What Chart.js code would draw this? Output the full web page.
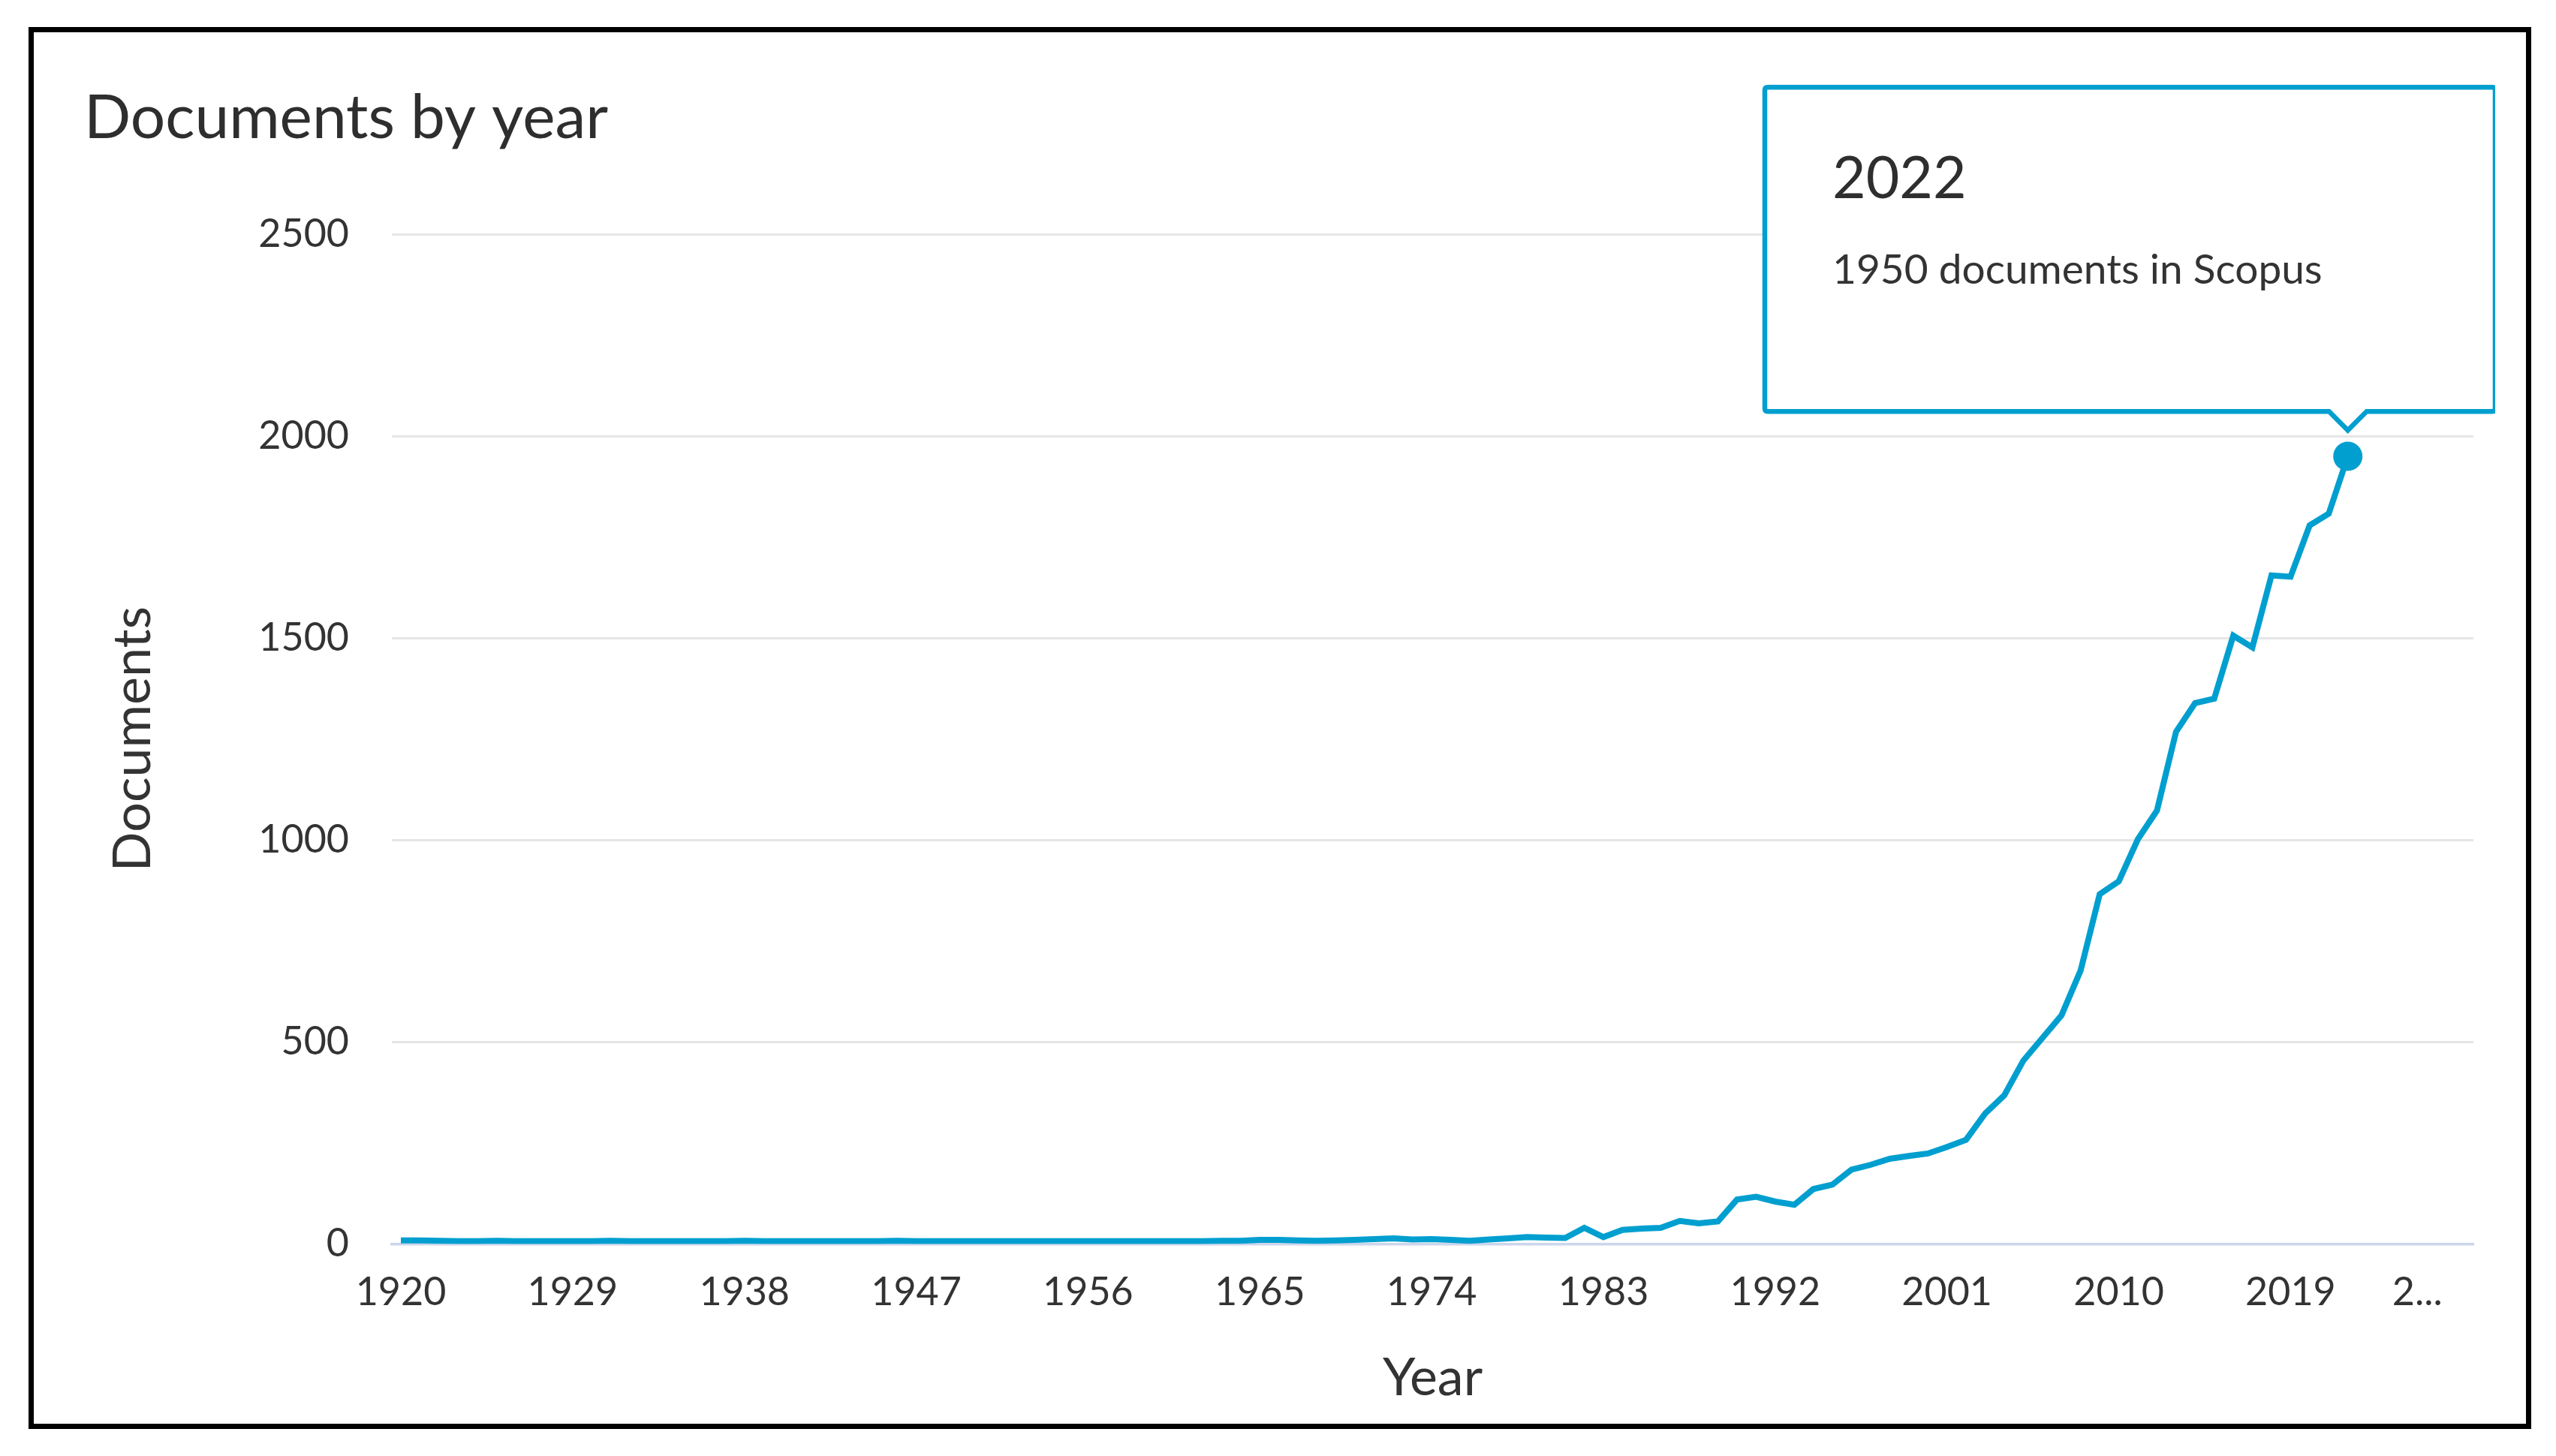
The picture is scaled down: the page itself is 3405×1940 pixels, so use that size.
<!DOCTYPE html>
<html>
<head>
<meta charset="utf-8">
<script src="https://cdn.jsdelivr.net/npm/chart.js@4.4.0/dist/chart.umd.min.js"></script>
<style>
html, body { margin: 0; padding: 0; background: #ffffff; overflow: hidden; width: 3405px; height: 1940px; }
#c { position: absolute; left: 0; top: 0; }
#frame { position: absolute; left: 38px; top: 36px; width: 3334px; height: 1868px; box-sizing: border-box; border: 7px solid #000000; pointer-events: none; }
</style>
</head>
<body>
<canvas id="c" width="3324" height="1940" style="width:3324px;height:1940px"></canvas>
<div id="frame"></div>
<script>
const years = [
  1920, 1921, 1922, 1923, 1924, 1925, 1926, 1927, 1928, 1929,
  1930, 1931, 1932, 1933, 1934, 1935, 1936, 1937, 1938, 1939,
  1940, 1941, 1942, 1943, 1944, 1945, 1946, 1947, 1948, 1949,
  1950, 1951, 1952, 1953, 1954, 1955, 1956, 1957, 1958, 1959,
  1960, 1961, 1962, 1963, 1964, 1965, 1966, 1967, 1968, 1969,
  1970, 1971, 1972, 1973, 1974, 1975, 1976, 1977, 1978, 1979,
  1980, 1981, 1982, 1983, 1984, 1985, 1986, 1987, 1988, 1989,
  1990, 1991, 1992, 1993, 1994, 1995, 1996, 1997, 1998, 1999,
  2000, 2001, 2002, 2003, 2004, 2005, 2006, 2007, 2008, 2009,
  2010, 2011, 2012, 2013, 2014, 2015, 2016, 2017, 2018, 2019,
  2020, 2021, 2022
];
const documents = [
  9, 9, 8, 7, 7, 8, 7, 7, 7, 7,
  7, 8, 7, 7, 7, 7, 7, 7, 8, 7,
  7, 7, 7, 7, 7, 7, 8, 7, 7, 7,
  7, 7, 7, 7, 7, 7, 7, 7, 7, 7,
  7, 7, 7, 8, 8, 10, 10, 9, 8, 9,
  10, 12, 14, 11, 12, 10, 8, 11, 14, 17,
  16, 15, 40, 17, 35, 38, 40, 57, 51, 56,
  110, 117, 105, 97, 136, 147, 184, 196, 211, 218,
  224, 240, 258, 323, 368, 454, 510, 566, 677, 866,
  898, 1002, 1073, 1268, 1339, 1350, 1506, 1477, 1655, 1652,
  1779, 1808, 1950
];
const yTickValues = [0, 500, 1000, 1500, 2000, 2500];
const xTickValues = [1920, 1929, 1938, 1947, 1956, 1965, 1974, 1983, 1992, 2001, 2010, 2019, 2028];
const xTickLabels = ['1920', '1929', '1938', '1947', '1956', '1965', '1974', '1983', '1992', '2001', '2010', '2019', '2...'];

const FONT = 'Lato, "Open Sans", sans-serif';
const BLUE = '#009fcf';
const TEXT = '#333333';
const lastIdx = years.length - 1;
const bodyText = documents[lastIdx] + ' documents in Scopus';

const m = document.createElement('canvas').getContext('2d');
m.font = 'normal 77px ' + FONT;
const wT = m.measureText(String(years[lastIdx])).width;
m.font = 'normal 55px ' + FONT;
const wB = m.measureText(bodyText).width;
const padRight = Math.max(10, 973 - 90 - Math.max(wT, wB));

const chart = new Chart(document.getElementById('c'), {
  type: 'line',
  data: {
    datasets: [{
      data: years.map((y, i) => ({ x: y, y: documents[i] })),
      borderColor: BLUE,
      borderWidth: 8,
      tension: 0,
      fill: false,
      pointRadius: c => (c.dataIndex === lastIdx ? 19.5 : 0),
      pointBackgroundColor: BLUE,
      pointBorderWidth: 0,
      pointHoverRadius: 19.5,
      pointHoverBorderWidth: 0,
      pointHoverBackgroundColor: BLUE
    }]
  },
  options: {
    responsive: false,
    devicePixelRatio: 1,
    animation: false,
    events: [],
    layout: { padding: { left: 112, right: 29, top: 0, bottom: 0 } },
    plugins: {
      legend: { display: false },
      title: {
        display: true,
        text: 'Documents by year',
        align: 'start',
        color: '#2e2e2e',
        font: { family: FONT, size: 82, weight: 'normal', lineHeight: 1.2 },
        padding: { top: 108.8, bottom: 104.8 }
      },
      tooltip: {
        enabled: true,
        position: 'average',
        xAlign: 'center',
        yAlign: 'bottom',
        backgroundColor: '#ffffff',
        borderColor: BLUE,
        borderWidth: 6.5,
        cornerRadius: 4,
        caretSize: 25,
        caretPadding: 34.7,
        displayColors: false,
        titleColor: '#2e2e2e',
        bodyColor: TEXT,
        titleFont: { family: FONT, size: 77, weight: 'normal', lineHeight: 1.2 },
        bodyFont: { family: FONT, size: 55, weight: 'normal', lineHeight: 1.2 },
        titleMarginBottom: 42.3,
        padding: { top: 76.3, bottom: 155, left: 90, right: padRight },
        callbacks: {
          title: items => String(years[items[0].dataIndex]),
          label: item => documents[item.dataIndex] + ' documents in Scopus'
        }
      }
    },
    scales: {
      x: {
        type: 'linear',
        min: 1919.528,
        max: 2028.58,
        afterBuildTicks: s => { s.ticks = xTickValues.map(v => ({ value: v })); },
        afterFit: s => { s.height = 282.5; s.paddingLeft = 0; s.paddingRight = 0; },
        grid: { display: false, drawTicks: false },
        border: { display: true, color: '#ccd6eb', width: 3.5 },
        ticks: {
          autoSkip: false,
          maxRotation: 0,
          minRotation: 0,
          padding: 33.3,
          color: TEXT,
          font: { family: FONT, size: 52 },
          callback: (v) => {
            const i = xTickValues.indexOf(v);
            if (i < 0) return '';
            return i === xTickValues.length - 1 ? xTickLabels[i] + '\u00a0'.repeat(9) : xTickLabels[i];
          }
        },
        title: {
          display: true,
          text: 'Year',
          color: TEXT,
          font: { family: FONT, size: 70 },
          padding: { top: 0, bottom: 62 }
        }
      },
      y: {
        min: 0,
        max: 2500,
        afterBuildTicks: s => { s.ticks = yTickValues.map(v => ({ value: v })); },
        afterFit: s => { s.width = 410; },
        grid: { color: '#e6e6e6', lineWidth: 3, drawTicks: false },
        border: { display: false },
        ticks: {
          padding: 57,
          color: TEXT,
          font: { family: FONT, size: 52 },
          callback: v => String(v)
        },
        title: {
          display: true,
          text: 'Documents',
          color: TEXT,
          font: { family: FONT, size: 70 },
          padding: { top: 23, bottom: 0 }
        }
      }
    }
  }
});

const act = [{ datasetIndex: 0, index: lastIdx }];
chart.setActiveElements(act);
chart.tooltip.setActiveElements(act, { x: 0, y: 0 });
chart.update();
</script>
</body>
</html>
